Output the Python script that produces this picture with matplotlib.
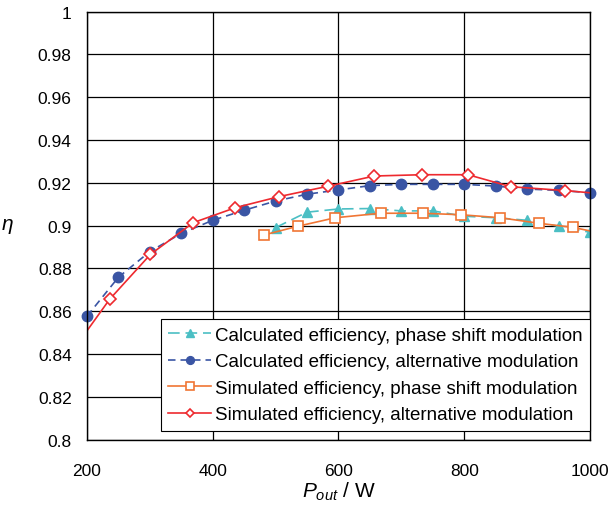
import numpy as np
import matplotlib
matplotlib.use("Agg")
import matplotlib.pyplot as plt
import matplotlib.ticker as ticker

plt.rcParams['font.family'] = ['Liberation Sans', 'DejaVu Sans']
plt.rcParams['mathtext.fontset'] = 'custom'
plt.rcParams['mathtext.it'] = 'Liberation Sans:italic'
plt.rcParams['mathtext.rm'] = 'Liberation Sans'

# расчёт, фазовый сдвиг
calc_ps_P = [500, 550, 600, 650, 700, 750, 800, 850, 900, 950, 1000]
calc_ps_eta = [0.8991, 0.9063, 0.9078, 0.9080, 0.9069, 0.9069, 0.9044, 0.9037, 0.9025, 0.8997, 0.8969]

# расчёт, альтернативная модуляция
calc_alt_P = [200, 250, 300, 350, 400, 450, 500, 550, 600, 650, 700, 750, 800, 850, 900, 950, 1000]
calc_alt_eta = [0.8577, 0.8759, 0.8879, 0.8964, 0.9025, 0.9072, 0.9115, 0.9147, 0.9167, 0.9187,
                0.9193, 0.9193, 0.9193, 0.9185, 0.9171, 0.9165, 0.9154]

# симуляция, фазовый сдвиг (последняя точка - только линия)
sim_ps_P = [482, 535, 595, 667, 734, 795, 857, 919, 973, 1030]
sim_ps_eta = [0.8957, 0.8997, 0.9037, 0.9058, 0.9058, 0.9051, 0.9037, 0.9011, 0.8992, 0.8957]

# симуляция, альтернативная модуляция (первая и последняя точки - только линия)
sim_alt_P = [200, 236, 301, 369, 436, 506, 583, 657, 733, 806, 874, 960, 1010]
sim_alt_eta = [0.8509, 0.8656, 0.8866, 0.9014, 0.9084, 0.9136, 0.9184, 0.9232, 0.9238, 0.9238,
               0.9182, 0.9164, 0.9151]

labels = [
    'Calculated efficiency, phase shift modulation',
    'Calculated efficiency, alternative modulation',
    'Simulated efficiency, phase shift modulation',
    'Simulated efficiency, alternative modulation',
]

fig = plt.figure(figsize=(6.13, 5.06), dpi=100)
ax = fig.add_axes([0.1419, 0.129, 0.8206, 0.8461])

ax.plot(calc_ps_P, calc_ps_eta, color='#4bbfc4', ls=(0, (7, 3.5)), lw=1.2,
        marker='^', ms=7, mec='#4bbfc4', mfc='#4bbfc4', label=labels[0])
ax.plot(calc_alt_P, calc_alt_eta, color='#3a55a4', ls=(0, (4.5, 3)), lw=1.2,
        marker='o', ms=7.5, mec='#3a55a4', mfc='#3a55a4', label=labels[1], clip_on=False)
ax.plot(sim_ps_P, sim_ps_eta, color='#f07534', ls='-', lw=1.2,
        marker='s', ms=7, mec='#f07534', mfc='white', mew=1.2,
        markevery=list(range(len(sim_ps_P) - 1)), label=labels[2])
ax.plot(sim_alt_P, sim_alt_eta, color='#ee2a2f', ls='-', lw=1.2,
        marker='D', ms=6, mec='#ee2a2f', mfc='white', mew=1.2,
        markevery=list(range(1, len(sim_alt_P) - 1)), label=labels[3])

ax.set_xlim(200, 1000)
ax.set_ylim(0.8, 1.0)
ax.xaxis.set_major_locator(ticker.MultipleLocator(200))
ax.yaxis.set_major_locator(ticker.MultipleLocator(0.02))
ax.yaxis.set_major_formatter(ticker.FuncFormatter(lambda v, p: '%g' % round(v, 2)))
ax.tick_params(length=0, labelsize=12.5, colors='black')
ax.tick_params(axis='x', pad=17)
ax.tick_params(axis='y', pad=11)
ax.grid(True, color='black', lw=0.9)
ax.set_axisbelow(True)
for s in ax.spines.values():
    s.set_linewidth(1.0)

ax.set_xlabel(r'$P_{out}$ / W', fontsize=15, labelpad=1)
ax.set_ylabel(r'$\eta$', fontsize=15, rotation=0, labelpad=22, va='center')

leg = ax.legend(loc='lower right', bbox_to_anchor=(1.0, 0.021), fontsize=13.5,
                frameon=True, fancybox=False, edgecolor='black', framealpha=1,
                handlelength=2.3, borderpad=0.4, labelspacing=0.5, handletextpad=0.2,
                borderaxespad=0, markerscale=0.75)
leg.get_frame().set_linewidth(0.8)

fig.savefig('out.png', dpi=100)
